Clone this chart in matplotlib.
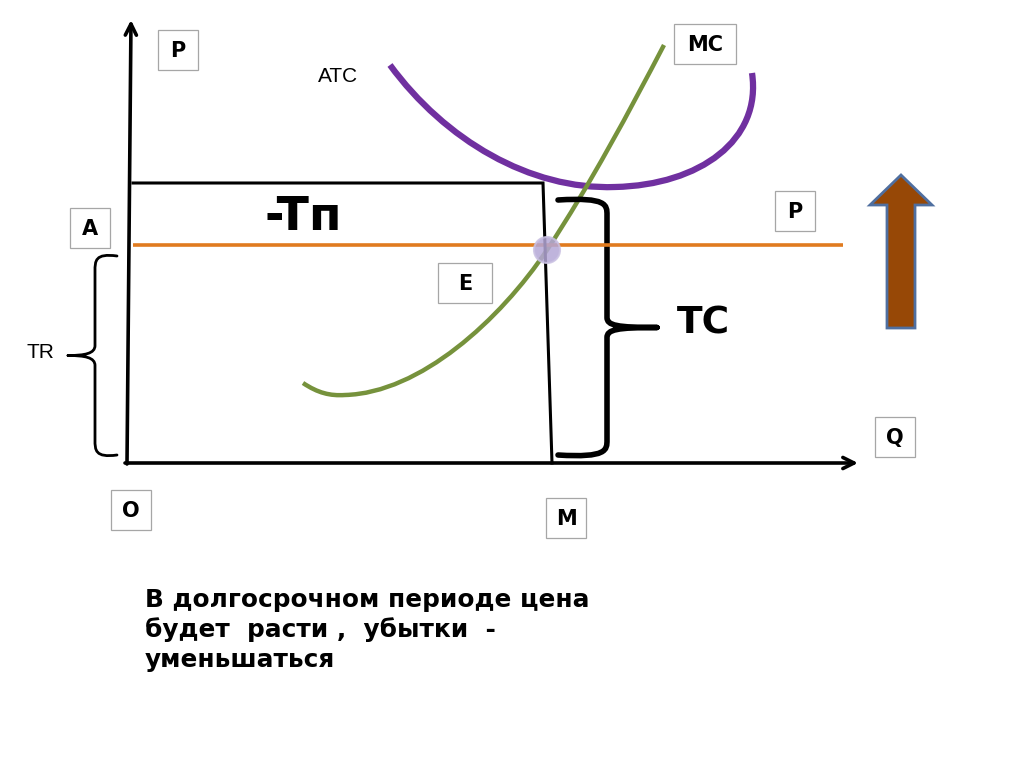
import matplotlib
matplotlib.use("Agg")
import matplotlib.pyplot as plt
import matplotlib.patches as mpatches
from matplotlib.path import Path

# boxed point labels
box_labels = ["P", "A", "P", "MC", "E", "Q", "O", "M"]
box_xy = [(178, 50), (90, 228), (795, 211), (705, 44), (465, 283), (895, 437), (131, 510), (566, 518)]
box_w = [40, 40, 40, 62, 54, 40, 40, 40]

# curves (bezier control points, pixel space)
atc_pts = [(390, 65), (445, 140), (530, 190), (615, 187), (700, 185), (762, 140), (752, 73)]
mc_pts = [(303, 383), (318, 393), (330, 396), (345, 395), (420, 393), (500, 320), (547, 250),
          (590, 185), (630, 110), (664, 45)]
price_y = 245
rect_top = 183
point_e = (547, 250)

caption = ["В долгосрочном периоде цена", "будет  расти ,  убытки  -", "уменьшаться"]

fig = plt.figure(figsize=(10.24, 7.67), dpi=100)
ax = fig.add_axes([0, 0, 1, 1])
ax.set_xlim(0, 1024)
ax.set_ylim(767, 0)
ax.axis("off")

def bez(pts):
    codes = [Path.MOVETO] + [Path.CURVE4] * (len(pts) - 1)
    return Path(pts, codes)

def brace(x, y0, y1, tip, ends, lw=3):
    # vertical curly brace: x of the spine, tip = x of the point, ends = x of the hooks
    ym = (y0 + y1) / 2
    d = 10 if ends > x else -10
    pts = [(ends, y0), (x, y0 - 3), (x, y0 + 5), (x, y0 + 15),
           (x, ym - 10),
           (x, ym - 2), (x - d, ym), (tip, ym),
           (tip, ym), (x - d, ym), (x, ym + 2), (x, ym + 10),
           (x, y1 - 15),
           (x, y1 - 5), (x, y1 + 3), (ends, y1)]
    codes = [Path.MOVETO, Path.CURVE4, Path.CURVE4, Path.CURVE4,
             Path.LINETO,
             Path.CURVE4, Path.CURVE4, Path.CURVE4,
             Path.MOVETO, Path.CURVE4, Path.CURVE4, Path.CURVE4,
             Path.LINETO,
             Path.CURVE4, Path.CURVE4, Path.CURVE4]
    ax.add_patch(mpatches.PathPatch(Path(pts, codes), fc="none", ec="black", lw=lw,
                                    capstyle="round", joinstyle="round"))

# cost curves
ax.add_patch(mpatches.PathPatch(bez(atc_pts), fc="none", ec="#7030A0", lw=4.5, capstyle="butt"))
ax.add_patch(mpatches.PathPatch(bez(mc_pts), fc="none", ec="#76923C", lw=3.2, capstyle="butt"))

# price line
ax.plot([133, 843], [price_y, price_y], color="#E07B1F", lw=2.6, solid_capstyle="butt")

# rectangle (loss area)
ax.plot([133, 543, 552], [rect_top, rect_top, 463], color="black", lw=2.2, solid_joinstyle="miter")

# axes
ax.annotate("", xy=(131, 20), xytext=(127, 464),
            arrowprops=dict(arrowstyle="->,head_length=0.8,head_width=0.4", lw=2.6, color="black",
                            shrinkA=0, shrinkB=0))
ax.annotate("", xy=(858, 463), xytext=(125, 463),
            arrowprops=dict(arrowstyle="->,head_length=0.8,head_width=0.4", lw=2.6, color="black",
                            shrinkA=0, shrinkB=0))

# equilibrium point
ax.add_patch(mpatches.Circle(point_e, 13, fc="#B4A7D6", ec="#C9C0E2", alpha=0.85, lw=1.5, zorder=5))

# braces
brace(95, 256, 455, 68, 117, lw=2)
brace(607, 200, 455, 657, 558, lw=4)

# labels with boxes
for lab, (cx, cy), w in zip(box_labels, box_xy, box_w):
    ax.add_patch(mpatches.Rectangle((cx - w / 2, cy - 20), w, 40, fc="white", ec="#A6A6A6", lw=0.9, zorder=6))
    ax.text(cx, cy + 1, lab, ha="center", va="center", fontsize=15, fontweight="bold",
            family="DejaVu Sans", zorder=7)

ax.text(338, 76, "ATC", ha="center", va="center", fontsize=15, family="Liberation Sans")
ax.text(40, 352, "TR", ha="center", va="center", fontsize=15, family="Liberation Sans")
ax.text(303, 218, "-Tп", ha="center", va="center", fontsize=34, fontweight="bold", family="DejaVu Sans")
ax.text(703, 324, "TC", ha="center", va="center", fontsize=27, fontweight="bold", family="DejaVu Sans")

# up arrow
ax.add_patch(mpatches.FancyArrow(901, 328, 0, -153, width=28, head_width=62, head_length=30,
                                 length_includes_head=True, fc="#974806", ec="#4F6FA0", lw=2))

# caption
for i, line in enumerate(caption):
    ax.text(145, 600 + i * 30, line, ha="left", va="center", fontsize=17.8, fontweight="bold",
            family="DejaVu Sans")

fig.savefig("out.png", dpi=100)
